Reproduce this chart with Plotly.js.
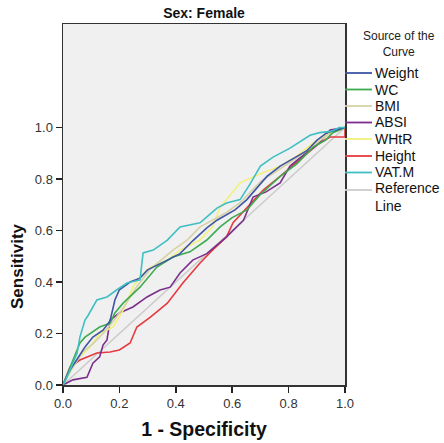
<!DOCTYPE html>
<html><head><meta charset="utf-8">
<script src="https://cdn.plot.ly/plotly-3.0.1.min.js"></script>
<style>html,body{margin:0;padding:0;background:#fff}#c{width:444px;height:443px}</style>
</head><body><div id="c"></div>
<script>
const seriesNames = ["Weight","WC","BMI","ABSI","WHtR","Height","VAT.M","Reference Line"];
const seriesColors = ["#3f55a5","#3dab4f","#d6d2a6","#7a2f8c","#f2f07c","#e53a40","#3fbfc2","#cccccc"];

const weightX = [0,0.02,0.05,0.078,0.106,0.142,0.167,0.184,0.2,0.238,0.273,0.3,0.37,0.415,0.46,0.51,0.546,0.61,0.652,0.723,0.77,0.82,0.865,0.9,0.936,0.97,1];
const weightY = [0,0.05,0.1,0.148,0.186,0.213,0.25,0.33,0.37,0.4,0.415,0.447,0.485,0.51,0.56,0.61,0.64,0.68,0.72,0.81,0.85,0.88,0.91,0.95,0.98,0.99,1];

const wcX = [0,0.035,0.06,0.078,0.13,0.167,0.184,0.213,0.273,0.333,0.39,0.45,0.51,0.557,0.6,0.652,0.7,0.77,0.83,0.887,0.93,0.957,1];
const wcY = [0,0.097,0.163,0.186,0.225,0.24,0.28,0.318,0.38,0.458,0.497,0.517,0.563,0.614,0.65,0.68,0.74,0.81,0.86,0.924,0.95,0.98,1];

const bmiX = [0,0.03,0.071,0.106,0.142,0.18,0.22,0.26,0.31,0.39,0.44,0.486,0.53,0.58,0.63,0.7,0.77,0.84,0.9,0.95,1];
const bmiY = [0,0.06,0.13,0.16,0.2,0.25,0.31,0.38,0.45,0.524,0.563,0.614,0.64,0.67,0.71,0.79,0.84,0.89,0.94,0.98,1];

const absiX = [0,0.035,0.085,0.106,0.13,0.142,0.156,0.167,0.2,0.248,0.298,0.344,0.38,0.415,0.46,0.51,0.58,0.64,0.674,0.72,0.77,0.805,0.86,0.91,0.947,1];
const absiY = [0,0.02,0.03,0.085,0.109,0.155,0.175,0.252,0.28,0.303,0.342,0.369,0.38,0.435,0.485,0.51,0.575,0.64,0.73,0.75,0.785,0.85,0.9,0.94,0.99,1];

const whtrX = [0,0.05,0.096,0.13,0.177,0.213,0.248,0.273,0.31,0.37,0.415,0.486,0.53,0.557,0.628,0.7,0.77,0.83,0.887,0.93,0.957,1];
const whtrY = [0,0.1,0.148,0.2,0.225,0.29,0.38,0.42,0.458,0.485,0.524,0.563,0.614,0.69,0.785,0.82,0.85,0.89,0.94,0.97,0.98,1];

const heightX = [0,0.025,0.06,0.12,0.167,0.2,0.238,0.262,0.31,0.37,0.425,0.486,0.53,0.58,0.603,0.628,0.71,0.77,0.84,0.91,0.947,0.98,1,1];
const heightY = [0,0.07,0.097,0.124,0.128,0.136,0.163,0.225,0.264,0.318,0.396,0.474,0.524,0.575,0.63,0.66,0.757,0.81,0.874,0.94,0.963,0.963,0.963,1];

const vatX = [0,0.025,0.05,0.06,0.078,0.089,0.12,0.156,0.19,0.227,0.273,0.284,0.32,0.37,0.415,0.486,0.497,0.546,0.58,0.628,0.663,0.7,0.745,0.805,0.876,0.91,0.95,0.98,1];
const vatY = [0,0.058,0.124,0.186,0.252,0.27,0.33,0.342,0.369,0.396,0.408,0.513,0.524,0.563,0.614,0.63,0.64,0.687,0.707,0.72,0.78,0.85,0.885,0.92,0.97,0.98,0.985,1,1];

const refX = [0,1];
const refY = [0,1];

const xs = [weightX,wcX,bmiX,absiX,whtrX,heightX,vatX,refX];
const ys = [weightY,wcY,bmiY,absiY,whtrY,heightY,vatY,refY];

const drawOrder = [7,5,3,4,2,1,0,6];
const traces = drawOrder.map(i => ({
  x: xs[i], y: ys[i], type: 'scatter', mode: 'lines', name: seriesNames[i],
  line: {color: seriesColors[i], width: 1.6},
  showlegend: false, hoverinfo: 'skip'
}));

const xTicks = [0,0.2,0.4,0.6,0.8,1.0];
const yTicks = [0,0.2,0.4,0.6,0.8,1.0];

const L = 63, R = 345, T = 24, B = 385;
const pw = R - L, ph = B - T;
const px2x = p => (p - L) / pw;
const py2y = p => (B - p) / ph;
const itemY = [73, 89.5, 106, 122.5, 139, 156, 172.5, 190];
const FONT = 'Liberation Sans, Arial, sans-serif';

const shapes = [];
const annotations = [];
seriesNames.forEach((n, i) => {
  shapes.push({type:'line', xref:'paper', yref:'paper', x0:1, x1:px2x(372), y0:py2y(itemY[i]), y1:py2y(itemY[i]),
    line:{color:seriesColors[i], width:1.8}});
  annotations.push({xref:'paper', yref:'paper', x:px2x(373), y:py2y(i===7 ? itemY[i]+7 : itemY[i]),
    xanchor:'left', yanchor:'middle', showarrow:false, align:'left',
    text: i===7 ? 'Reference<br>Line' : n, font:{family:FONT, size:14, color:'#111'}});
});
annotations.push({xref:'paper', yref:'paper', x:px2x(399), y:py2y(44), xanchor:'center', yanchor:'middle', showarrow:false,
  text:'Source of the<br>Curve', font:{family:FONT, size:12, color:'#222'}});
annotations.push({xref:'paper', yref:'paper', x:px2x(17), y:py2y(266), xanchor:'center', yanchor:'middle', showarrow:false,
  textangle:-90, text:'<b>Sensitivity</b>', font:{family:FONT, size:17, color:'#111'}});

const layout = {
  width: 444, height: 443,
  margin: {l: L, r: 444 - R, t: T, b: 443 - B, pad: 0},
  paper_bgcolor: '#ffffff', plot_bgcolor: '#f0f0f0',
  title: {text: '<b>Sex: Female</b>', x: (L + pw/2)/444, xanchor: 'center', y: 1 - 13/443, yanchor: 'middle',
    font: {family: FONT, size: 14, color: '#111'}},
  xaxis: {range: [0, 1], tickvals: xTicks, ticktext: xTicks.map(v => v.toFixed(1)), ticks: 'outside', ticklen: 6,
    tickcolor: '#222', tickwidth: 1.5, showline: true, linecolor: '#333', linewidth: 1.5, mirror: true,
    showgrid: false, zeroline: false, fixedrange: true,
    tickfont: {family: FONT, size: 13, color: '#333'},
    title: {text: '<b>1 - Specificity</b>', standoff: 12, font: {family: FONT, size: 19.5, color: '#111'}}},
  yaxis: {range: [0, 1.402], tickvals: yTicks, ticktext: yTicks.map(v => v.toFixed(1)), ticks: 'outside', ticklen: 6,
    tickcolor: '#222', tickwidth: 1.5, showline: true, linecolor: '#333', linewidth: 1.5, mirror: true,
    showgrid: false, zeroline: false, fixedrange: true,
    tickfont: {family: FONT, size: 13, color: '#333'}},
  shapes: shapes,
  annotations: annotations,
  showlegend: false
};

Plotly.newPlot('c', traces, layout, {displayModeBar: false, staticPlot: true});
</script>
</body></html>
